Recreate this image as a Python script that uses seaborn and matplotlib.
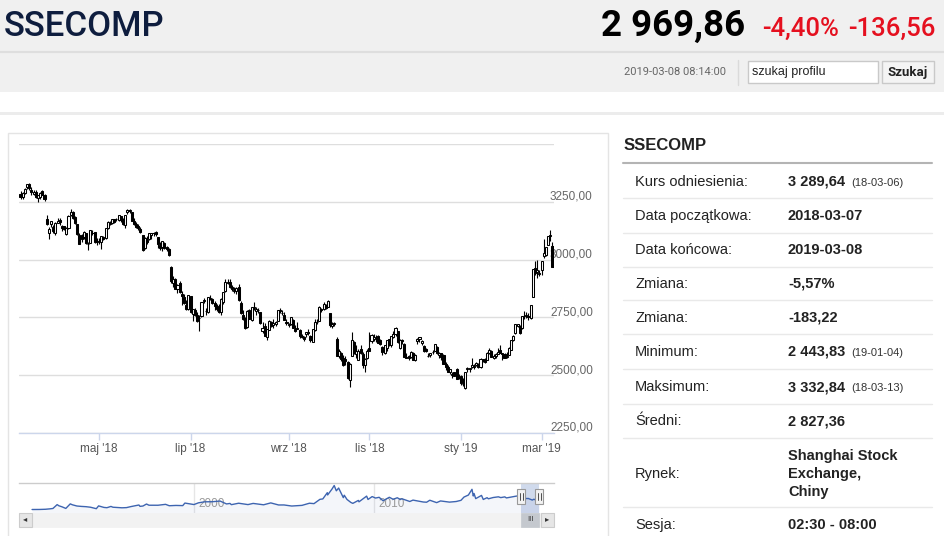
import numpy as np
import pandas as pd
import seaborn as sns
import matplotlib.pyplot as plt
import matplotlib.dates as mdates
from matplotlib.patches import Rectangle
import matplotlib.transforms as mtransforms

# daily OHLC, SSECOMP, 2018-03-07 .. 2019-03-08 (open, high, low, close)
mar18 = [(3283,3296,3262,3271),(3272,3292,3260,3288),(3290,3309,3285,3307),(3315,3329,3307,3326),
         (3325,3333,3303,3310),(3303,3312,3280,3291),(3283,3302,3278,3292),(3294,3301,3266,3269),
         (3265,3280,3251,3279),(3272,3291,3260,3290),(3296,3300,3278,3281),(3280,3284,3255,3263),
         (3174,3195,3150,3153),(3114,3141,3091,3134),(3155,3169,3142,3166),(3140,3150,3116,3122),
         (3116,3161,3105,3160),(3160,3178,3157,3169)]
apr18 = [(3173,3181,3149,3163),(3145,3148,3122,3137),(3144,3147,3128,3131),(3110,3142,3106,3138),
         (3136,3191,3133,3190),(3193,3220,3189,3208),(3204,3211,3177,3180),(3185,3189,3155,3159),
         (3154,3156,3106,3110),(3107,3117,3066,3067),(3108,3112,3075,3091),(3097,3125,3091,3118),
         (3113,3114,3068,3071),(3066,3074,3042,3068),(3071,3130,3070,3128),(3117,3126,3106,3117),
         (3118,3118,3072,3075),(3077,3095,3064,3082)]
may18 = [(3082,3093,3066,3081),(3077,3103,3047,3101),(3099,3104,3086,3091),(3095,3137,3091,3136),
         (3135,3166,3133,3161),(3153,3166,3148,3159),(3160,3175,3155,3174),(3175,3177,3160,3163),
         (3175,3182,3165,3174),(3173,3193,3165,3192),(3187,3190,3162,3170),(3172,3181,3150,3154),
         (3150,3193,3137,3193),(3206,3219,3199,3214),(3211,3219,3203,3214),(3205,3206,3165,3169),
         (3165,3181,3148,3154),(3153,3161,3138,3141),(3144,3152,3126,3135),(3131,3143,3117,3120),
         (3106,3107,3038,3041),(3051,3096,3048,3095)]
jun18 = [(3084,3104,3069,3075),(3087,3115,3085,3113),(3105,3116,3090,3114),(3113,3121,3104,3115),
         (3118,3124,3104,3109),(3097,3098,3051,3067),(3061,3075,3042,3052),(3053,3080,3039,3079),
         (3071,3075,3048,3049),(3053,3058,3038,3044),(3044,3050,3015,3021),(2966,2972,2899,2907),
         (2900,2927,2883,2915),(2917,2922,2872,2875),(2873,2893,2857,2889),(2900,2908,2856,2859),
         (2853,2866,2803,2844),(2838,2851,2806,2813),(2805,2825,2782,2786),(2786,2847,2781,2847)]
jul18 = [(2842,2843,2768,2775),(2763,2788,2733,2786),(2781,2790,2757,2759),(2759,2772,2731,2733),
         (2746,2761,2691,2747),(2758,2816,2753,2815),(2819,2833,2812,2827),(2777,2792,2761,2777),
         (2773,2837,2768,2837),(2834,2848,2824,2831),(2829,2834,2809,2814),(2811,2820,2782,2798),
         (2799,2807,2779,2787),(2795,2807,2768,2773),(2774,2835,2760,2829),(2816,2861,2806,2859),
         (2866,2915,2859,2905),(2898,2915,2894,2903),(2903,2915,2877,2882),(2882,2892,2865,2873),
         (2864,2882,2855,2869),(2865,2880,2851,2876)]
aug18 = [(2882,2893,2819,2824),(2812,2820,2764,2768),(2762,2780,2738,2741),(2747,2751,2701,2705),
         (2710,2780,2705,2779),(2780,2787,2744,2745),(2738,2796,2733,2795),(2790,2815,2783,2795),
         (2779,2794,2759,2785),(2784,2791,2770,2781),(2773,2773,2722,2724),(2690,2729,2683,2706),
         (2714,2727,2668,2669),(2666,2699,2653,2698),(2696,2739,2696,2733),(2729,2736,2710,2714),
         (2716,2741,2703,2725),(2722,2734,2714,2730),(2735,2781,2733,2781),(2781,2790,2771,2777),
         (2771,2783,2761,2769),(2762,2772,2737,2738),(2731,2744,2715,2725)]
sep18 = [(2716,2727,2708,2720),(2723,2752,2718,2750),(2737,2741,2704,2705),(2701,2715,2687,2691),
         (2700,2729,2698,2702),(2696,2698,2659,2669),(2668,2677,2659,2664),(2665,2671,2648,2656),
         (2680,2688,2665,2686),(2686,2699,2674,2682),(2669,2674,2644,2651),(2645,2700,2645,2699),
         (2694,2741,2691,2730),(2730,2741,2722,2729),(2736,2798,2735,2797),(2788,2792,2773,2781),
         (2786,2815,2784,2806),(2802,2807,2787,2792),(2795,2827,2794,2821)]
oct18 = [(2768,2771,2710,2716),(2713,2731,2703,2721),(2721,2731,2712,2725),(2658,2667,2583,2583),
         (2582,2612,2575,2606),(2597,2602,2563,2568),(2574,2586,2539,2546),(2569,2585,2543,2561),
         (2558,2563,2484,2486),(2481,2552,2449,2550),(2584,2685,2584,2654),(2643,2648,2592,2594),
         (2590,2631,2575,2603),(2566,2614,2564,2603),(2613,2630,2592,2598),(2590,2600,2533,2542),
         (2545,2575,2512,2568),(2575,2612,2570,2603)]
nov18 = [(2617,2685,2605,2606),(2650,2680,2640,2676),(2656,2680,2650,2665),(2659,2672,2645,2659),
         (2668,2675,2640,2641),(2652,2657,2632,2635),(2620,2626,2588,2599),(2597,2630,2591,2630),
         (2617,2654,2603,2654),(2656,2656,2625,2632),(2630,2669,2620,2668),(2666,2693,2663,2679),
         (2680,2707,2671,2703),(2692,2693,2638,2645),(2617,2658,2612,2651),(2651,2656,2637,2646),
         (2633,2638,2578,2579),(2577,2597,2573,2575),(2582,2588,2566,2574),(2577,2605,2573,2602),
         (2598,2601,2565,2567),(2564,2591,2560,2588)]
dec18 = [(2647,2659,2635,2655),(2655,2667,2645,2666),(2638,2653,2632,2649),(2626,2630,2602,2605),
         (2612,2617,2600,2606),(2583,2595,2580,2585),(2587,2596,2580,2594),(2600,2610,2593,2602),
         (2603,2636,2603,2634),(2624,2625,2593,2594),(2589,2601,2575,2598),(2594,2596,2566,2577),
         (2586,2590,2549,2550),(2548,2559,2523,2536),(2534,2546,2512,2516),(2512,2527,2505,2527),
         (2500,2512,2488,2504),(2512,2516,2495,2498),(2525,2529,2483,2483),(2488,2506,2483,2494)]
jan19 = [(2497,2500,2456,2465),(2461,2488,2455,2464),(2446,2515,2440,2514),(2528,2536,2516,2533),
         (2530,2532,2516,2526),(2535,2574,2533,2544),(2541,2550,2528,2535),(2544,2555,2538,2553),
         (2547,2553,2532,2535),(2537,2573,2530,2570),(2568,2572,2558,2570),(2570,2576,2552,2559),
         (2567,2600,2565,2596),(2595,2618,2592,2610),(2604,2607,2578,2579),(2573,2590,2568,2581),
         (2581,2596,2575,2591),(2593,2618,2590,2601),(2609,2631,2596,2596),(2592,2596,2564,2594),
         (2590,2598,2574,2575),(2580,2600,2573,2585)]
feb19 = [(2588,2623,2586,2618),(2611,2654,2610,2653),(2651,2674,2646,2671),(2682,2722,2680,2721),
         (2714,2723,2709,2720),(2712,2718,2679,2682),(2702,2756,2700,2755),(2758,2779,2744,2754),
         (2754,2772,2748,2761),(2757,2771,2739,2751),(2749,2805,2745,2804),(2838,2961,2838,2961),
         (2964,2995,2933,2941),(2945,3000,2920,2954),(2939,2953,2927,2941)]
mar19 = [(2954,2995,2932,2994),(3015,3090,3006,3027),(3020,3055,3014,3054),(3065,3103,3062,3102),
         (3101,3129,3080,3106),(3060,3075,2969,2969)]

holidays = ['2018-04-05','2018-04-06','2018-04-30','2018-05-01','2018-06-18','2018-09-24',
            '2018-10-01','2018-10-02','2018-10-03','2018-10-04','2018-10-05','2018-12-31',
            '2019-01-01','2019-02-04','2019-02-05','2019-02-06','2019-02-07','2019-02-08']

tick_months = ['2018-05-01','2018-07-01','2018-09-01','2018-11-01','2019-01-01','2019-03-01']
tick_labels = ["maj '18", "lip '18", "wrz '18", "lis '18", "sty '19", "mar '19"]
y_levels = [2250, 2500, 2750, 3000, 3250, 3500]

# long history for the navigator
nav_dates = ['1991-01-02','1991-06-01','1991-10-01','1991-12-31','1992-03-01','1992-05-25','1992-07-01',
             '1992-09-01','1992-11-17','1993-02-15','1993-04-01','1993-07-01','1993-10-01','1993-12-31',
             '1994-04-01','1994-07-29','1994-09-13','1994-12-31','1995-03-01','1995-05-22','1995-07-01',
             '1995-12-31','1996-04-01','1996-07-01','1996-12-10','1996-12-31','1997-03-01','1997-05-12',
             '1997-07-01','1997-12-31','1998-06-03','1998-08-17','1998-12-31','1999-05-18','1999-06-30',
             '1999-12-31','2000-04-01','2000-08-01','2000-12-31','2001-06-14','2001-10-22','2001-12-31',
             '2002-01-29','2002-06-25','2002-12-31','2003-04-15','2003-11-13','2004-04-07','2004-09-13',
             '2004-12-31','2005-06-06','2005-12-31','2006-06-01','2006-09-01','2006-12-31','2007-02-27',
             '2007-05-29','2007-06-05','2007-08-31','2007-10-16','2007-11-28','2008-01-14','2008-04-18',
             '2008-05-07','2008-07-01','2008-09-18','2008-10-28','2009-02-17','2009-03-02','2009-08-04',
             '2009-09-01','2009-11-24','2010-02-01','2010-04-15','2010-07-02','2010-11-08','2011-01-25',
             '2011-04-18','2011-06-20','2011-07-18','2011-12-28','2012-03-02','2012-09-26','2012-12-03',
             '2013-02-06','2013-06-25','2013-09-12','2014-03-12','2014-07-25','2014-10-31','2014-12-31',
             '2015-03-31','2015-06-12','2015-07-08','2015-07-24','2015-08-26','2015-12-22','2016-01-27',
             '2016-04-13','2016-05-10','2016-08-15','2016-11-29','2017-01-16','2017-04-07','2017-05-11',
             '2017-11-13','2018-01-29','2018-02-09','2018-03-13','2018-06-29','2018-07-25','2018-10-18',
             '2018-11-19','2019-01-04','2019-02-22','2019-03-07','2019-03-08']
nav_values = [128, 140, 190, 292, 390, 1350, 1050,
              800, 400, 1536, 1300, 1000, 900, 833,
              700, 334, 1033, 648, 580, 897, 700,
              555, 600, 860, 1258, 917, 1000, 1500,
              1200, 1194, 1420, 1070, 1147, 1100, 1740,
              1367, 1800, 2050, 2073, 2242, 1520, 1646,
              1340, 1700, 1357, 1650, 1307, 1780, 1260,
              1266, 998, 1161, 1700, 1600, 2675, 2771,
              4334, 3767, 5218, 6124, 4803, 5497, 3094,
              3700, 2650, 1895, 1664, 2400, 2050, 3478,
              2639, 3361, 2990, 3181, 2319, 3186, 2677,
              3067, 2611, 2826, 2134, 2478, 2004, 1949,
              2444, 1849, 2270, 1974, 2126, 2420, 3234,
              3747, 5178, 3507, 4124, 2850, 3651, 2638,
              3082, 2807, 3125, 3301, 3103, 3286, 3022,
              3447, 3587, 3129, 3333, 2847, 2903, 2486,
              2703, 2440, 2804, 3106, 2969]

quote_name = "SSECOMP"
quote_last = "2 969,86"
quote_pct = "-4,40%"
quote_abs = "-136,56"
quote_time = "2019-03-08 08:14:00"

row_labels = ["Kurs odniesienia:", "Data początkowa:", "Data końcowa:", "Zmiana:", "Zmiana:",
              "Minimum:", "Maksimum:", "Średni:", "Rynek:", "Sesja:"]
row_values = ["3 289,64", "2018-03-07", "2019-03-08", "-5,57%", "-183,22",
              "2 443,83", "3 332,84", "2 827,36", "Shanghai Stock\nExchange,\nChiny", "02:30 - 08:00"]
row_notes = ["(18-03-06)", "", "", "", "", "(19-01-04)", "(18-03-13)", "", "", ""]

# ---------------------------------------------------------------------------
sns.set_theme(style="white")
plt.rcParams['font.family'] = ['Liberation Sans', 'DejaVu Sans']
NARROW = ['Roboto', 'DejaVu Sans']

ohlc = np.array(mar18 + apr18 + may18 + jun18 + jul18 + aug18 + sep18 + oct18 +
                nov18 + dec18 + jan19 + feb19 + mar19, dtype=float)
days = pd.bdate_range('2018-03-07', '2019-03-08')
days = days[~days.isin(pd.to_datetime(holidays))]
days = days[:len(ohlc)]
o, h, l, c = ohlc.T
idx = np.arange(len(ohlc))
up = c >= o

W, H = 945, 536
fig = plt.figure(figsize=(W / 100, H / 100), dpi=100)
fig.patch.set_facecolor('white')

def frac(x0, y0, x1, y1):
    return [x0 / W, 1 - y1 / H, (x1 - x0) / W, (y1 - y0) / H]

# page background (pixel coordinates)
bg = fig.add_axes([0, 0, 1, 1], zorder=0)
bg.set_xlim(0, W)
bg.set_ylim(H, 0)
bg.axis('off')
bg.add_patch(Rectangle((0, 0), W, 92, color='#f0f0f0', lw=0))
bg.plot([0, W], [51.5, 51.5], color='#dedede', lw=1.6)
bg.add_patch(Rectangle((0, 112), W, 3, color='#ececec', lw=0))
bg.add_patch(Rectangle((8, 133), 600, 420, facecolor='white', edgecolor='#e4e4e4', lw=1))

bg.text(4, 36, quote_name, family=NARROW, fontsize=25, weight='medium', color='#0e1d3e',
        va='baseline', ha='left')
bg.text(745, 36, quote_last, family=NARROW, fontsize=26.5, weight='bold', color='black',
        va='baseline', ha='right')
bg.text(762, 36, quote_pct, family=NARROW, fontsize=18.5, weight='medium', color='#e5101f',
        va='baseline', ha='left')
bg.text(936, 36, quote_abs, family=NARROW, fontsize=18.5, weight='medium', color='#e5101f',
        va='baseline', ha='right')

bg.text(726, 72, quote_time, family=NARROW, fontsize=8, color='#666666', va='center', ha='right')
bg.plot([738, 738], [60, 85], color='#dadada', lw=1)
bg.add_patch(Rectangle((748, 61), 130, 22, facecolor='white', edgecolor='#c9c9c9', lw=1))
bg.text(752, 72, "szukaj profilu", fontsize=9, color='#222222', va='center', ha='left')
bg.add_patch(Rectangle((882, 61), 52, 22, facecolor='#f4f4f4', edgecolor='#c9c9c9', lw=1))
bg.text(908, 72.5, "Szukaj", family=NARROW, fontsize=9.5, weight='bold', color='#222222',
        va='center', ha='center')

# side table
bg.text(624, 146, quote_name, fontsize=12, weight='bold', color='#222222', va='center', ha='left')
bg.plot([623, 932], [163, 163], color='#b4b4b4', lw=1.5)
row_y = [182, 216, 250, 284, 318, 352, 387, 421, 474, 525]
sep_y = [198, 233, 267, 300, 334, 369, 404, 438, 507]
for y in sep_y:
    bg.plot([623, 932], [y, y], color='#e9e9e9', lw=1)
for lab, val, note, y in zip(row_labels, row_values, row_notes, row_y):
    bg.text(635, y, lab, fontsize=10.5, color='#222222', va='center', ha='left')
    lines = val.split('\n')
    for k, line in enumerate(lines):
        yy = y + (k - (len(lines) - 1) / 2) * 18
        bg.text(788, yy, line, fontsize=10.5, weight='bold', color='#222222', va='center', ha='left')
    if note:
        bg.text(851, y + 1, note, fontsize=8, color='#333333', va='center', ha='left')

# main candlestick chart
ax = fig.add_axes(frac(19, 144, 554, 433), zorder=2)
ax.set_facecolor('none')
ax.vlines(idx, l, h, color='black', lw=0.8, zorder=3)
ax.bar(idx[up], (c - o)[up], bottom=o[up], width=0.95, color='white', edgecolor='black',
       lw=0.75, zorder=4)
ax.bar(idx[~up], (o - c)[~up], bottom=c[~up], width=0.95, color='black', edgecolor='black',
       lw=0.75, zorder=4)
ax.set_xlim(-0.7, len(ohlc) - 0.3)
ax.set_ylim(y_levels[0], y_levels[-1])
ax.set_yticks(y_levels)
ax.grid(axis='y', color='#dedede', lw=1)
ax.grid(axis='x', visible=False)
ax.tick_params(axis='y', left=False, right=False, labelleft=False)
tick_pos = [int(np.searchsorted(days, pd.Timestamp(m))) for m in tick_months]
ax.set_xticks(tick_pos)
ax.set_xticklabels(tick_labels)
ax.tick_params(axis='x', bottom=True, direction='out', length=5, width=1, color='#ccd6eb',
               labelcolor='#555555', labelsize=8.5, pad=2)
for s in ['left', 'right', 'top']:
    ax.spines[s].set_visible(False)
ax.spines['bottom'].set_color('#ccd6eb')
ax.spines['bottom'].set_linewidth(1)
lab_tr = mtransforms.offset_copy(ax.get_yaxis_transform(), fig=fig, x=-4, y=5, units='dots')
for v in y_levels[:-1]:
    ax.text(1.0, v, f"{v:.2f}".replace('.', ','), transform=lab_tr, fontsize=8.5,
            color='#666666', ha='left', va='center', zorder=1, clip_on=False)

# navigator
nav = fig.add_axes(frac(19, 483, 554, 513), zorder=2)
nav_x = pd.to_datetime(nav_dates)
sns.lineplot(x=nav_x, y=nav_values, ax=nav, color='#3d64b0', lw=1)
nav.fill_between(nav_x, nav_values, -745, color='#335cad', alpha=0.05, lw=0)
x_lo = mdates.date2num(pd.Timestamp('1990-04-12'))
x_hi = mdates.date2num(pd.Timestamp('2020-01-01'))
nav.set_xlim(x_lo, x_hi)
nav.set_ylim(-745, 6755)
nav.set_xticks([]); nav.set_yticks([])
nav.set_xlabel(''); nav.set_ylabel('')
for s in ['left', 'right', 'bottom']:
    nav.spines[s].set_visible(False)
nav.spines['top'].set_color('#cccccc')
nav.spines['top'].set_linewidth(1)
xt = nav.get_xaxis_transform()
for yr in ['2000', '2010']:
    d = mdates.date2num(pd.Timestamp(yr + '-01-01'))
    nav.axvline(d, color='#e6e6e6', lw=1, zorder=0)
    nav.text(d, 0.3, yr, transform=mtransforms.offset_copy(xt, fig=fig, x=4, y=0, units='dots'),
             fontsize=8.5, color='#999999', ha='left', va='center', zorder=1)
sel0, sel1 = mdates.date2num(days[0]), mdates.date2num(days[-1])
nav.axvspan(sel0, sel1, color='#6685c2', alpha=0.3, lw=0, zorder=1)

# scrollbar below the navigator (axes-fraction y, date numbers x)
hd = 81.0
bw = 265.0
nav.add_patch(Rectangle((x_lo, -0.45), x_hi - x_lo, 0.45, transform=xt, facecolor='#f2f2f2',
                        edgecolor='#f2f2f2', lw=0.5, clip_on=False))
nav.add_patch(Rectangle((sel0, -0.45), sel1 - sel0, 0.45, transform=xt, facecolor='#c4c8ce',
                        edgecolor='#c4c8ce', lw=0.5, clip_on=False))
nav.text((sel0 + sel1) / 2, -0.22, "III", transform=xt, fontsize=5.5, color='#333333',
         ha='center', va='center', clip_on=False)
nav.add_patch(Rectangle((x_lo, -0.45), bw, 0.45, transform=xt,
                        facecolor='#e6e6e6', edgecolor='#cccccc', lw=0.8, clip_on=False))
nav.add_patch(Rectangle((x_hi - bw, -0.45), bw, 0.45, transform=xt,
                        facecolor='#e6e6e6', edgecolor='#cccccc', lw=0.8, clip_on=False))
nav.text(x_lo + bw / 2, -0.22, "◂", transform=xt, fontsize=6, color='#333333',
         ha='center', va='center', clip_on=False)
nav.text(x_hi - bw / 2, -0.22, "▸", transform=xt, fontsize=6, color='#333333',
         ha='center', va='center', clip_on=False)
# handles
for d in [sel0, sel1]:
    nav.add_patch(Rectangle((d - hd, 0.3), 2 * hd, 0.5, transform=xt, facecolor='#f2f2f2',
                            edgecolor='#999999', lw=0.8, clip_on=False, zorder=5))
    for dd in [-hd / 3, hd / 3]:
        nav.plot([d + dd, d + dd], [0.42, 0.68], transform=xt, color='#333333', lw=0.6,
                 zorder=6, clip_on=False)

fig.savefig('out.png', dpi=100)
